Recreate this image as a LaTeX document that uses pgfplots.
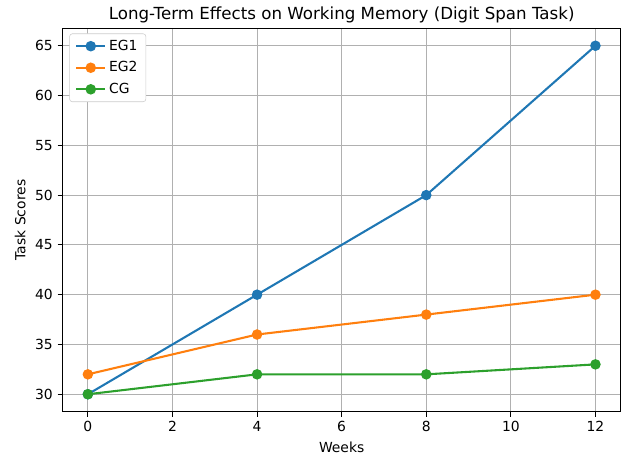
\documentclass[border=0pt]{standalone}
\usepackage{pgfplots}
\pgfplotsset{compat=1.18}
\usepackage{fontspec}
\setmainfont{DejaVu Sans}
\definecolor{c0}{HTML}{1F77B4}
\definecolor{c1}{HTML}{FF7F0E}
\definecolor{c2}{HTML}{2CA02C}
\begin{document}
\begin{tikzpicture}
\path[use as bounding box] (-45pt,-31.2pt) rectangle (402.84pt,296.4pt);
\begin{axis}[
  at={(0pt,0pt)}, anchor=south west,
  scale only axis,
  width=402pt, height=276pt,
  xmin=-0.6, xmax=12.6, ymin=28.25, ymax=66.75,
  xtick={0,2,4,6,8,10,12},
  ytick={30,35,40,45,50,55,60,65},
  grid=major,
  grid style={color=black!31, line width=0.8pt},
  axis line style={line width=0.8pt},
  tick style={black, line width=0.8pt},
  tick align=outside,
  major tick length=3.5pt,
  xtick pos=bottom, ytick pos=left,
  /pgf/number format/assume math mode=true,
  tick label style={font=\fontsize{10}{12}\selectfont},
  label style={font=\fontsize{10}{12}\selectfont},
  title style={font=\fontsize{12}{14}\selectfont, yshift=-5.5pt},
  xlabel={Weeks}, ylabel={Task Scores},
  title={Long-Term Effects on Working Memory (Digit Span Task)},
  legend cell align=left,
  legend image code/.code={\draw[mark repeat=2,mark phase=2] plot coordinates {(0pt,0pt) (10.5pt,0pt) (21pt,0pt)};},
  legend style={font=\fontsize{10}{12}\selectfont, draw=black!20, rounded corners=2pt,
    inner xsep=4pt, inner ysep=2.5pt, row sep=2.6pt,
    at={(0,1)}, anchor=north west, xshift=4.9pt, yshift=-3.7pt},
  every axis plot/.append style={line width=1.5pt, mark=*, mark size=3pt},
]
\addplot[color=c0, mark options={fill=c0}] coordinates {(0,30) (4,40) (8,50) (12,65)};
\addlegendentry{EG1}
\addplot[color=c1, mark options={fill=c1}] coordinates {(0,32) (4,36) (8,38) (12,40)};
\addlegendentry{EG2}
\addplot[color=c2, mark options={fill=c2}] coordinates {(0,30) (4,32) (8,32) (12,33)};
\addlegendentry{CG}
\end{axis}
\end{tikzpicture}
\end{document}
